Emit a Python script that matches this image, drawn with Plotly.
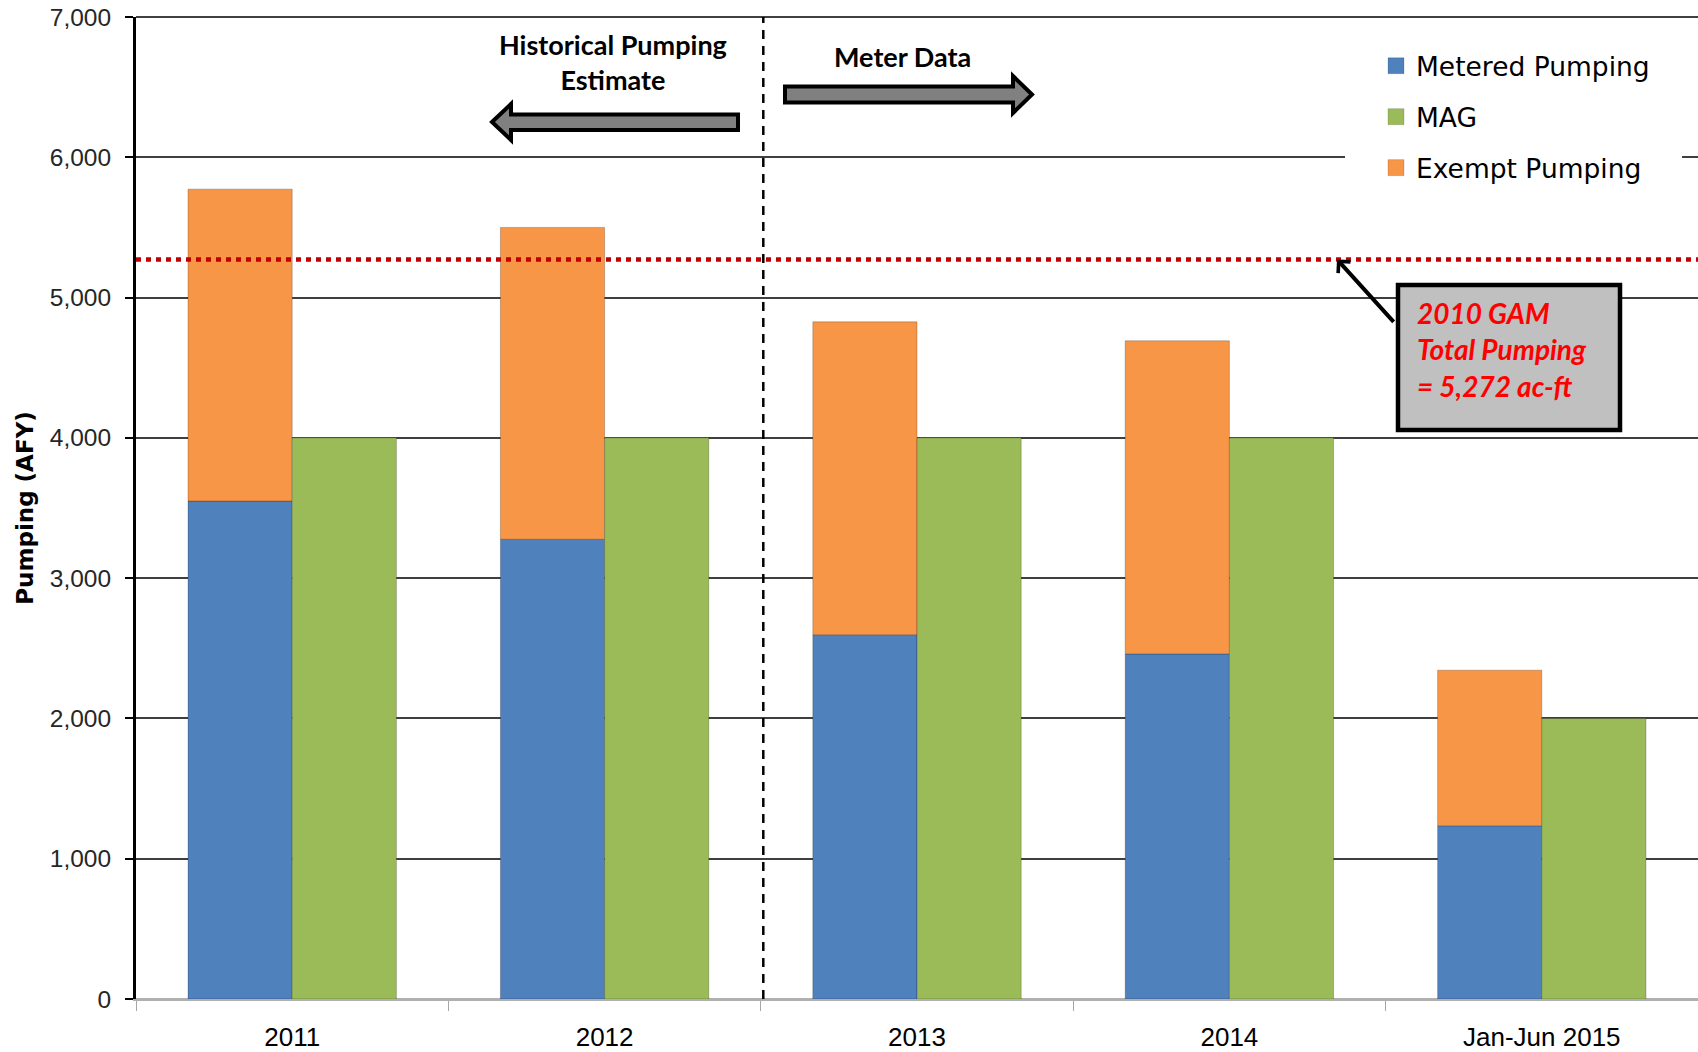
import plotly.graph_objects as go

# ---- data -------------------------------------------------------------
categories = ["2011", "2012", "2013", "2014", "Jan-Jun 2015"]
metered_pumping = [3550, 3277, 2597, 2460, 1235]
exempt_pumping = [2223, 2223, 2230, 2232, 1109]
mag = [4000, 4000, 4000, 4000, 2000]
gam_total_pumping = 5272
y_ticks = [0, 1000, 2000, 3000, 4000, 5000, 6000, 7000]

BLUE = "#4F81BD"
GREEN = "#9BBB59"
ORANGE = "#F79646"

# ---- page geometry (pixels) --------------------------------------------
W, H = 1698, 1052
PL, PT, PR, PB = 136, 17, 0, 53
PW, PH = W - PL - PR, H - PT - PB


def px(x):
    """page pixel x -> paper fraction"""
    return (x - PL) / PW


def py(y):
    """page pixel y -> paper fraction"""
    return (PT + PH - y) / PH


def poly(points):
    return "M " + " L ".join(f"{px(a):.5f},{py(b):.5f}" for a, b in points) + " Z"


fig = go.Figure()

edge = dict(width=1, color="rgba(0,0,0,0.22)")
fig.add_bar(x=categories, y=metered_pumping, name="Metered Pumping",
            marker=dict(color=BLUE, line=edge), offsetgroup="use", showlegend=False)
fig.add_bar(x=categories, y=exempt_pumping, base=metered_pumping, name="Exempt Pumping",
            marker=dict(color=ORANGE, line=edge), offsetgroup="use", showlegend=False)
fig.add_bar(x=categories, y=mag, name="MAG",
            marker=dict(color=GREEN, line=edge), offsetgroup="mag", showlegend=False)

# legend entries
for i, (nm, col) in enumerate([("Metered Pumping", BLUE), ("MAG", GREEN),
                                ("Exempt Pumping", ORANGE)]):
    fig.add_scatter(x=[None], y=[None], mode="markers", name=nm,
                    legendgroup=f"g{i}", legendrank=i + 1,
                    marker=dict(symbol="square", size=16, color=col,
                                line=dict(width=1, color="rgba(0,0,0,0.15)")))

shapes = [
    # top border
    dict(type="line", xref="paper", yref="paper", x0=0, x1=1, y0=1, y1=1,
         line=dict(color="#000000", width=1.5), layer="above"),
    # legend backdrop
    dict(type="rect", xref="paper", yref="paper", x0=px(1345), x1=px(1682),
         y0=py(192), y1=py(32), fillcolor="white", line=dict(width=0), layer="above"),
    # divider between estimate and metered years
    dict(type="line", xref="x", yref="paper", x0=1.508, x1=1.508, y0=0, y1=1,
         line=dict(color="#000000", width=2.5, dash="9px,7px"), layer="above"),
    # 2010 GAM total pumping reference line
    dict(type="line", xref="paper", yref="y", x0=0, x1=1,
         y0=gam_total_pumping, y1=gam_total_pumping,
         line=dict(color="#C00000", width=4.5, dash="5px,5px"), layer="above"),
    # left block arrow
    dict(type="path", xref="paper", yref="paper",
         path=poly([(492, 122), (511, 104), (511, 114.5), (738, 114.5),
                    (738, 130), (511, 130), (511, 140)]),
         fillcolor="#808080", line=dict(color="#000000", width=4), layer="above"),
    # right block arrow
    dict(type="path", xref="paper", yref="paper",
         path=poly([(1032, 94.5), (1013, 76), (1013, 86.5), (785, 86.5),
                    (785, 102.5), (1013, 102.5), (1013, 113)]),
         fillcolor="#808080", line=dict(color="#000000", width=4), layer="above"),
    # callout box
    dict(type="rect", xref="paper", yref="paper", x0=px(1398), x1=px(1620),
         y0=py(430), y1=py(285), fillcolor="#C0C0C0",
         line=dict(color="#000000", width=4.5), layer="above"),
]

annotations = [
    dict(xref="paper", yref="paper", x=px(613), y=py(62), xanchor="center",
         yanchor="middle", showarrow=False, text="<b>Historical Pumping<br>Estimate</b>",
         font=dict(family="Lato", size=27, color="#000000")),
    dict(xref="paper", yref="paper", x=px(902), y=py(56), xanchor="center",
         yanchor="middle", showarrow=False, text="<b>Meter Data</b>",
         font=dict(family="Lato", size=27, color="#000000")),
    dict(xref="paper", yref="paper", x=px(1415), y=py(349), xanchor="left",
         yanchor="middle", showarrow=False, align="left",
         text="<b><i>2010 GAM<br>Total Pumping<br>= 5,272 ac-ft</i></b>",
         font=dict(family="Lato", size=28, color="#FF0000")),
    dict(xref="paper", yref="y", x=px(1337), y=gam_total_pumping, text="",
         showarrow=True, arrowhead=4, arrowsize=0.8, arrowwidth=4,
         arrowcolor="#000000", ax=58, ay=64, standoff=0),
]

fig.update_layout(
    width=W, height=H,
    margin=dict(l=PL, r=PR, t=PT, b=PB, pad=0),
    paper_bgcolor="white", plot_bgcolor="white",
    barmode="group", bargap=0.333, bargroupgap=0,
    shapes=shapes, annotations=annotations,
    legend=dict(x=px(1376), y=py(42), xanchor="left", yanchor="top",
                bgcolor="white", borderwidth=0, tracegroupgap=13.5,
                traceorder="grouped",
                font=dict(family="DejaVu Sans", size=26.5, color="#000000")),
    font=dict(family="Liberation Sans", color="#000000"),
)

fig.update_xaxes(
    type="category", tickson="boundaries", ticks="outside", ticklen=10,
    tickwidth=1.2, tickcolor="#A6A6A6", showline=True, linecolor="#B0B0B0",
    linewidth=1.5, showgrid=False, ticklabelstandoff=14,
    tickfont=dict(family="Liberation Sans", size=26, color="#000000"),
)
fig.update_yaxes(
    range=[0, 7000], tickvals=y_ticks, tickformat=",", ticks="outside",
    ticklen=8, tickwidth=2, tickcolor="#000000", showline=True,
    linecolor="#000000", linewidth=3, showgrid=True, gridcolor="#3F3F3F",
    gridwidth=1.5, zeroline=True, zerolinecolor="#B0B0B0", zerolinewidth=1.5,
    ticklabelstandoff=9,
    tickfont=dict(family="Liberation Sans", size=24.5, color="#262626"),
    title=dict(text="<b>Pumping (AFY)</b>", standoff=10,
               font=dict(family="DejaVu Sans", size=23, color="#000000")),
)

fig.write_html("out.html")
